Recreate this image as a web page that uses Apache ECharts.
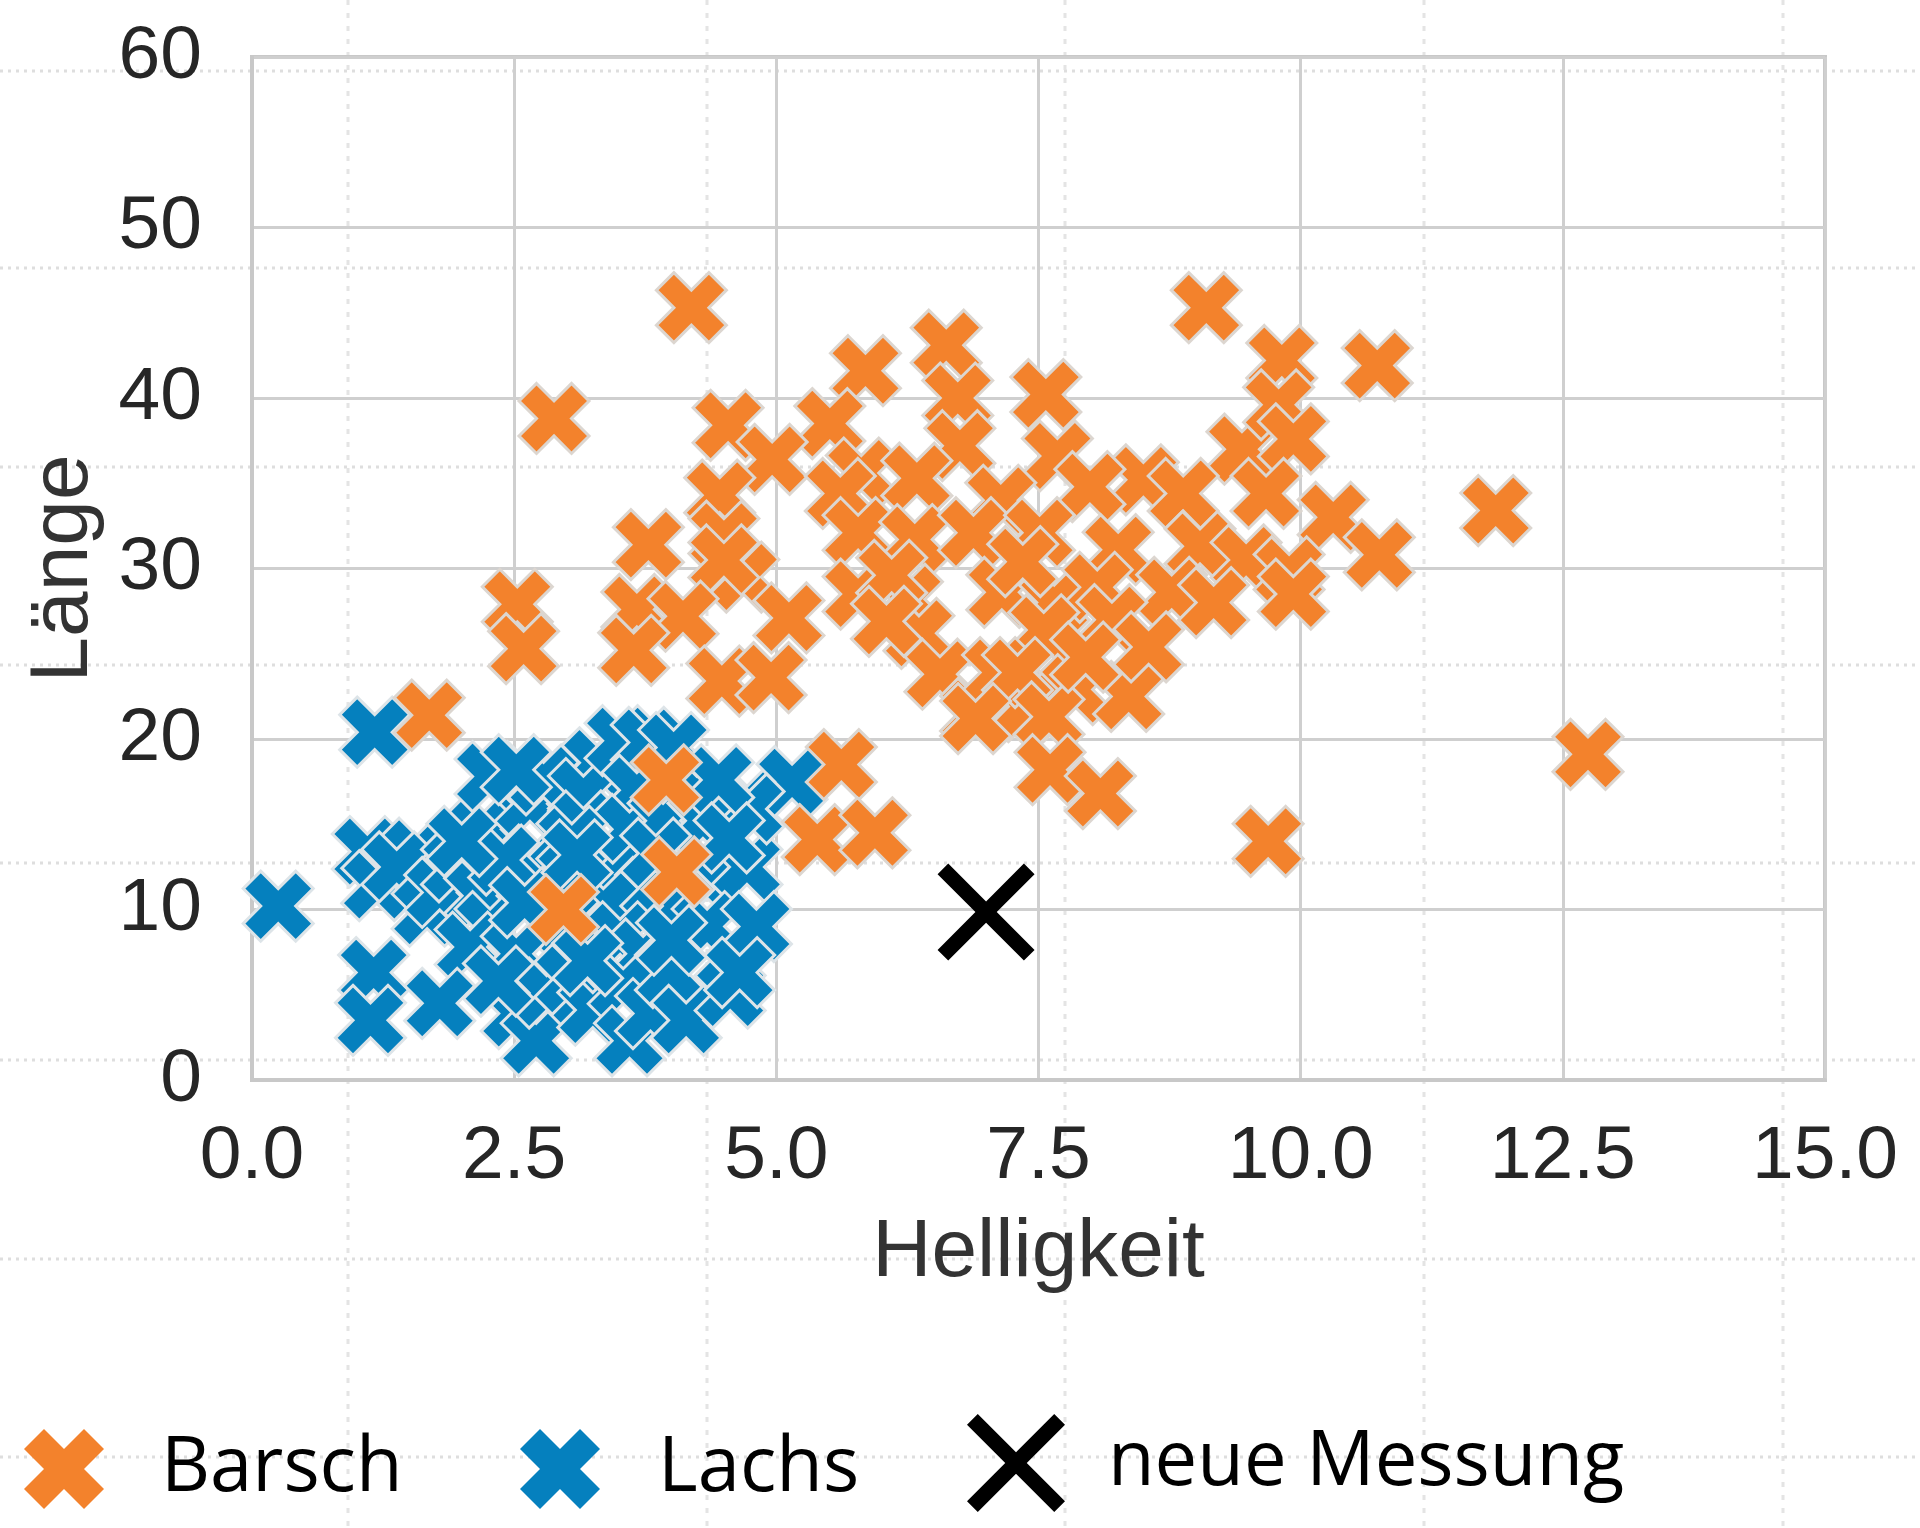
<!DOCTYPE html>
<html>
<head>
<meta charset="utf-8">
<script src="https://cdn.jsdelivr.net/npm/echarts@6/dist/echarts.min.js"></script>
<style>
html,body{margin:0;padding:0;background:#fff;}
#chart{width:1920px;height:1528px;}
</style>
</head>
<body>
<div id="chart"></div>
<script>
// ---- data (Helligkeit, Länge) ----
const barsch = [
  [4.19,45.3],[2.88,38.8],[9.10,45.3],[6.62,43.1],[5.85,41.6],[9.82,42.2],[10.73,41.9],[7.57,40.2],
  [4.54,38.4],[6.73,40.0],[5.51,38.5],[4.96,36.4],[6.75,37.2],[7.68,36.6],[9.44,37.0],[9.79,39.6],
  [9.93,37.6],[11.86,33.4],[4.46,34.3],[5.81,35.6],[6.34,35.3],[8.50,35.2],[7.99,34.8],[7.14,34.0],
  [5.61,34.4],[8.88,34.4],[9.67,34.4],[10.31,33.0],[10.75,30.8],[3.78,31.4],[4.50,31.9],[5.78,32.1],
  [6.32,31.7],[6.88,32.1],[7.51,32.1],[8.26,31.1],[9.04,31.3],[9.48,30.5],[9.89,29.8],[4.69,29.5],
  [4.50,30.5],[8.77,28.6],[5.78,28.5],[6.25,28.2],[7.15,28.6],[7.65,28.0],[8.06,28.9],[9.17,28.0],
  [9.93,28.5],[2.53,27.9],[3.67,27.6],[4.11,27.2],[5.12,27.1],[2.59,25.3],[3.64,25.2],[6.36,26.2],
  [7.55,26.4],[8.20,27.0],[4.48,23.4],[4.95,23.6],[6.56,23.8],[6.90,21.5],[7.38,21.9],[7.85,22.9],
  [8.36,22.5],[7.11,23.9],[7.30,23.9],[7.60,21.3],[6.90,21.2],[1.69,21.4],[7.61,18.2],[8.09,16.8],
  [5.62,18.5],[3.95,17.6],[5.39,14.1],[5.94,14.5],[9.69,14.0],[12.74,19.1],[4.05,12.2],[2.97,10.0],
  [6.10,29.6],[7.35,30.4],[8.55,25.4],[6.05,26.9],[7.95,24.8]
];
const lachs = [
  [0.25,10.2],[1.17,20.4],[1.10,13.4],[1.57,13.3],[1.19,11.4],[1.38,12.5],[1.67,9.9],[1.79,11.0],
  [1.95,12.5],[2.17,10.8],[2.21,14.7],[2.27,17.8],[2.65,16.2],[2.78,17.6],[2.52,18.2],[3.29,18.6],
  [3.16,16.8],[3.51,19.9],[3.76,19.8],[4.02,19.5],[3.67,17.0],[4.24,16.8],[4.72,16.2],[5.15,17.5],
  [3.16,14.9],[3.60,14.7],[3.92,15.2],[4.30,15.2],[2.71,12.9],[2.40,12.9],[2.97,12.1],[3.44,11.7],
  [3.80,11.0],[4.34,11.7],[4.72,12.5],[3.35,10.2],[4.08,10.2],[2.27,9.0],[2.97,9.4],[2.08,7.8],
  [2.52,7.4],[3.51,8.4],[3.73,7.4],[4.34,9.0],[4.81,9.0],[1.16,6.3],[1.13,3.5],[1.79,4.5],
  [2.52,3.9],[2.71,2.3],[2.81,5.1],[3.03,5.9],[3.25,4.1],[3.54,5.5],[3.60,2.3],[3.80,3.9],
  [3.99,6.3],[4.14,3.5],[4.56,5.1],[4.65,6.3],[4.74,15.9],[3.05,14.0],[2.60,10.4],[3.20,7.0],
  [4.00,8.2],[2.00,14.0],[3.85,13.3],[3.10,13.2],[2.35,5.8],[4.45,17.6],[4.55,14.2]
];
const neueMessung = [[7.0, 9.85]];
const seriesNames = ['Barsch', 'Lachs', 'neue Messung'];
const xTicks = [0, 2.5, 5, 7.5, 10, 12.5, 15];
const yTicks = [0, 10, 20, 30, 40, 50, 60];

const X_FILLED = 'path://M1,0 L2,1 L3,0 L4,1 L3,2 L4,3 L3,4 L2,3 L1,4 L0,3 L1,2 L0,1 Z';
const X_THIN = 'path://M0,11 L11,0 L50,39 L89,0 L100,11 L61,50 L100,89 L89,100 L50,61 L11,100 L0,89 L39,50 Z';

const chart = echarts.init(document.getElementById('chart'), null, {renderer: 'canvas'});

// faint background dotted guide lines (slide background)
const guides = [];
[71, 268, 467, 665, 863, 1060, 1259, 1457].forEach(y => guides.push({
  type: 'line', z: -10, silent: true,
  shape: {x1: 0, y1: y, x2: 1920, y2: y},
  style: {stroke: '#dedede', lineWidth: 3, lineDash: [3, 5]}
}));
[348, 707, 1065, 1424, 1783].forEach(x => guides.push({
  type: 'line', z: -10, silent: true,
  shape: {x1: x, y1: 0, x2: x, y2: 1528},
  style: {stroke: '#e4e4e4', lineWidth: 3, lineDash: [5, 8]}
}));

const tickFont = {fontFamily: '"Liberation Sans", Arial, sans-serif', fontSize: 75, color: '#262626'};
const legendText = (pad) => ({fontFamily: '"Open Sans", "Noto Sans", sans-serif', fontSize: 76, color: '#000', padding: [0, 0, 0, pad], lineHeight: 90});

chart.setOption({
  backgroundColor: '#fff',
  animation: false,
  graphic: guides,
  grid: {
    left: 252, top: 57, width: 1573, height: 1023,
    show: true, borderColor: '#c8c8c8', borderWidth: 4,
    backgroundColor: 'transparent',
    outerBoundsMode: 'none'
  },
  legend: [
    {data: [seriesNames[0]], left: 24, top: 1424, padding: 0, itemWidth: 84, itemHeight: 80,
     itemStyle: {borderWidth: 0}, textStyle: legendText(50)},
    {data: [seriesNames[1]], left: 520, top: 1424, padding: 0, itemWidth: 86, itemHeight: 80,
     itemStyle: {borderWidth: 0}, textStyle: legendText(50)},
    {data: [seriesNames[2]], left: 967, top: 1414, padding: 0, itemWidth: 98, itemHeight: 98,
     itemStyle: {borderWidth: 0, opacity: 1}, textStyle: legendText(38)}
  ],
  xAxis: {
    type: 'value', min: xTicks[0], max: xTicks[xTicks.length - 1], interval: 2.5,
    name: 'Helligkeit', nameLocation: 'middle', nameGap: 132,
    nameTextStyle: {fontFamily: '"Liberation Sans", Arial, sans-serif', fontSize: 82, color: '#333'},
    axisLine: {show: true, lineStyle: {color: '#c8c8c8', width: 4}},
    axisTick: {show: false},
    axisLabel: Object.assign({margin: 40, formatter: v => v.toFixed(1)}, tickFont),
    splitLine: {show: true, lineStyle: {color: '#cfcfcf', width: 3}}
  },
  yAxis: {
    type: 'value', min: yTicks[0], max: yTicks[yTicks.length - 1], interval: 10,
    name: 'Länge', nameLocation: 'middle', nameGap: 147,
    nameTextStyle: {fontFamily: '"Liberation Sans", Arial, sans-serif', fontSize: 82, color: '#333'},
    axisLine: {show: true, lineStyle: {color: '#c8c8c8', width: 4}},
    axisTick: {show: false},
    axisLabel: Object.assign({margin: 50}, tickFont),
    splitLine: {show: true, lineStyle: {color: '#cfcfcf', width: 3}}
  },
  series: [
    {
      name: seriesNames[1], type: 'scatter', data: lachs, z: 3,
      symbol: X_FILLED, symbolSize: 70,
      itemStyle: {color: '#0580be', borderColor: '#dde4e8', borderWidth: 3, opacity: 1}
    },
    {
      name: seriesNames[0], type: 'scatter', data: barsch, z: 4,
      symbol: X_FILLED, symbolSize: 70,
      itemStyle: {color: '#f3822c', borderColor: '#dcd6d0', borderWidth: 3, opacity: 1}
    },
    {
      name: seriesNames[2], type: 'scatter', data: neueMessung, z: 5,
      symbol: X_THIN, symbolSize: 97,
      itemStyle: {color: '#000', opacity: 1}
    }
  ]
});
</script>
</body>
</html>
